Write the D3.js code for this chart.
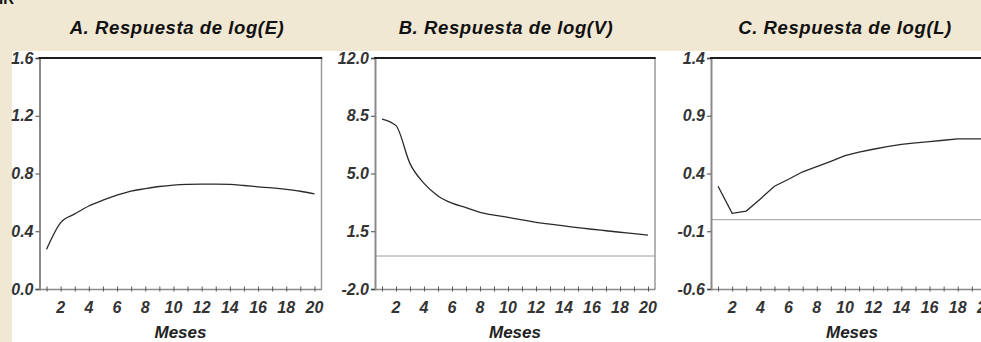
<!DOCTYPE html>
<html>
<head>
<meta charset="utf-8">
<script src="https://cdn.jsdelivr.net/npm/d3@7"></script>
<style>
  html, body { margin: 0; padding: 0; background: #f0e8d3; }
  svg { display: block; }
  .tick-label { font-family: "Liberation Sans Narrow", "Arial Narrow", "Liberation Sans", Arial, sans-serif; font-weight: bold; font-style: italic; font-size: 16px; fill: #333; }
  .title { font-family: "Liberation Sans", Arial, sans-serif; font-weight: bold; font-style: italic; font-size: 18.5px; fill: #111; }
  .xlabel { font-family: "Liberation Sans Narrow", "Arial Narrow", "Liberation Sans", Arial, sans-serif; font-weight: bold; font-style: italic; font-size: 17px; fill: #222; }
</style>
</head>
<body>
<svg id="chart" width="981" height="342"></svg>
<script>
// Impulse responses over 20 months
const months = d3.range(1, 21);
const monthTicks = [2, 4, 6, 8, 10, 12, 14, 16, 18, 20];

const responseE = [0.275, 0.46, 0.52, 0.575, 0.615, 0.65, 0.678, 0.695, 0.71, 0.72,
                   0.725, 0.727, 0.727, 0.725, 0.717, 0.708, 0.70, 0.69, 0.677, 0.658];
const responseV = [8.3, 7.9, 5.6, 4.4, 3.64, 3.2, 2.93, 2.65, 2.48, 2.34,
                   2.19, 2.04, 1.93, 1.82, 1.72, 1.62, 1.53, 1.44, 1.35, 1.27];
const responseL = [0.29, 0.055, 0.075, 0.18, 0.29, 0.35, 0.415, 0.46, 0.505, 0.555,
                   0.585, 0.61, 0.632, 0.652, 0.665, 0.676, 0.688, 0.70, 0.70, 0.70];

const titles = ["A. Respuesta de log(E)", "B. Respuesta de log(V)", "C. Respuesta de log(L)"];
const yTicksE = [0.0, 0.4, 0.8, 1.2, 1.6];
const yTicksV = [-2.0, 1.5, 5.0, 8.5, 12.0];
const yTicksL = [-0.6, -0.1, 0.4, 0.9, 1.4];
const yTickLabelsE = ["0.0", "0.4", "0.8", "1.2", "1.6"];
const yTickLabelsV = ["-2.0", "1.5", "5.0", "8.5", "12.0"];
const yTickLabelsL = ["-0.6", "-0.1", "0.4", "0.9", "1.4"];
const xLabel = "Meses";

const svg = d3.select("#chart");
const W = 981, H = 342;

// page background: beige band on top and a strip on the left, white plotting area
svg.append("rect").attr("x", 0).attr("y", 0).attr("width", W).attr("height", H).attr("fill", "#f0e8d3");
svg.append("rect").attr("x", 12).attr("y", 51).attr("width", W - 12).attr("height", H - 51).attr("fill", "#ffffff");

// fragment of the heading above the panels
svg.append("text").attr("x", -1).attr("y", 4)
  .style("font-family", "Liberation Sans, Arial, sans-serif")
  .style("font-weight", "bold").style("font-size", "15px").attr("fill", "#111")
  .text("IR");

const panels = [
  { title: titles[0], values: responseE, ticks: yTicksE, labels: yTickLabelsE, left: 39.5, right: 321.5, titleX: 177, zeroLine: false, curve: d3.curveMonotoneX },
  { title: titles[1], values: responseV, ticks: yTicksV, labels: yTickLabelsV, left: 375, right: 655, titleX: 506, zeroLine: true, curve: d3.curveMonotoneX },
  { title: titles[2], values: responseL, ticks: yTicksL, labels: yTickLabelsL, left: 711, right: 993, titleX: 845, zeroLine: true, curve: d3.curveLinear }
];

const plotTop = 58, plotBottom = 289;

panels.forEach(p => {
  const x = d3.scaleLinear().domain([0.5, 20.5]).range([p.left, p.right]);
  const y = d3.scaleLinear().domain([p.ticks[0], p.ticks[p.ticks.length - 1]]).range([plotBottom, plotTop]);
  const g = svg.append("g");

  // title
  svg.append("text").attr("class", "title")
    .attr("x", p.titleX).attr("y", 34).attr("text-anchor", "middle")
    .style("letter-spacing", "0.6px")
    .text(p.title);

  // right border
  g.append("line").attr("x1", p.right).attr("x2", p.right).attr("y1", plotTop).attr("y2", plotBottom)
    .attr("stroke", "#9a9a9a").attr("stroke-width", 1.5);

  // zero reference line
  if (p.zeroLine) {
    g.append("line").attr("x1", p.left).attr("x2", p.right).attr("y1", y(0)).attr("y2", y(0))
      .attr("stroke", "#9c9c9c").attr("stroke-width", 1);
  }

  // bottom axis with a tick at every month
  const xAxis = d3.axisBottom(x).tickValues(months).tickSize(0).tickFormat("");
  const xg = g.append("g").attr("transform", `translate(0,${plotBottom})`).call(xAxis);
  xg.select(".domain").attr("stroke", "#8a8a8a").attr("stroke-width", 1.5);
  xg.selectAll(".tick").append("line").attr("y1", -2.5).attr("y2", 2.5)
    .attr("stroke", "#555").attr("stroke-width", 1);
  g.selectAll(".xtl").data(monthTicks).enter().append("text")
    .attr("class", "tick-label").attr("text-anchor", "middle")
    .attr("x", d => x(d)).attr("y", 313).text(d => d);

  // left axis
  const yAxis = d3.axisLeft(y).tickValues(p.ticks).tickSize(4).tickFormat("");
  const yg = g.append("g").attr("transform", `translate(${p.left},0)`).call(yAxis);
  yg.select(".domain").attr("stroke", "#8a8a8a").attr("stroke-width", 2);
  yg.selectAll(".tick line").attr("stroke", "#444").attr("stroke-width", 1);
  g.selectAll(".ytl").data(p.ticks).enter().append("text")
    .attr("class", "tick-label").attr("text-anchor", "end")
    .attr("x", p.left - 6).attr("y", d => y(d) + 5.5)
    .text((d, i) => p.labels[i]);

  // heavy top frame line
  g.append("line").attr("x1", p.left - 1).attr("x2", p.right + 0.75).attr("y1", plotTop).attr("y2", plotTop)
    .attr("stroke", "#1e1e1e").attr("stroke-width", 2.2);

  // response curve
  const line = d3.line().curve(p.curve).x((d, i) => x(months[i])).y(d => y(d));
  g.append("path").datum(p.values).attr("d", line)
    .attr("fill", "none").attr("stroke", "#2a2a2a").attr("stroke-width", 1.3);

  // x axis title
  g.append("text").attr("class", "xlabel").attr("text-anchor", "middle")
    .attr("x", (p.left + p.right) / 2).attr("y", 338).text(xLabel);
});
</script>
</body>
</html>
